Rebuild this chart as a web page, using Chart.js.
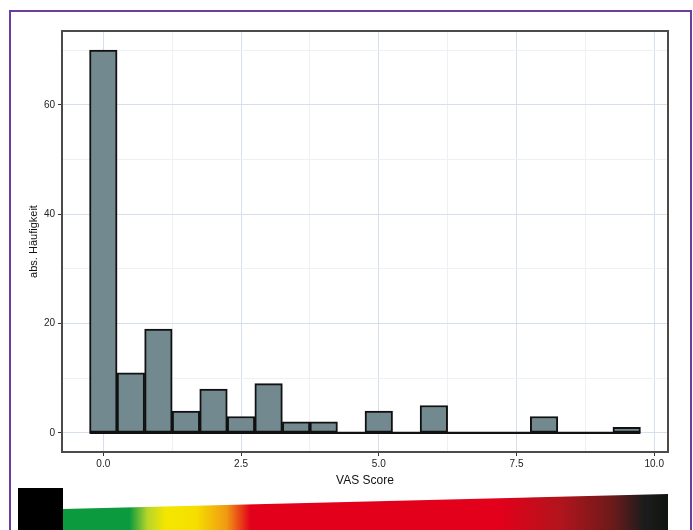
<!DOCTYPE html>
<html>
<head>
<meta charset="utf-8">
<script src="https://cdn.jsdelivr.net/npm/chart.js@4.4.1/dist/chart.umd.min.js"></script>
<style>
    html, body { margin: 0; padding: 0; background: #fff; overflow: hidden; }
    body { width: 693px; height: 530px; position: relative; }
    #frame { position: absolute; left: 9px; top: 10px; width: 679px; height: 540px; border: 2px solid #6b3d9e; }
    #chartBox { position: absolute; left: 0; top: 0; width: 693px; height: 530px; }
    #blackBox { position: absolute; left: 18px; top: 488px; width: 45px; height: 42px; background: #000; }
    #wedge {
        position: absolute; left: 63px; top: 494px; width: 605px; height: 36px;
        clip-path: polygon(0 15px, 100% 0, 100% 100%, 0 100%);
        background: linear-gradient(to right, #0c9a3f 0%, #0c9a3f 11%, #b8d62a 14%, #f4e600 17%, #f5df00 22%, #f09a12 27%, #e3001b 31%, #e3001b 72%, #b3141c 82%, #6b1a1a 91%, #1c1c1c 96%, #101510 100%);
    }
</style>
</head>
<body>
<div id="frame"></div>
<div id="chartBox"><canvas id="histo"></canvas></div>
<div id="blackBox"></div>
<div id="wedge"></div>

<script>
// histogram data (bin centres, bin width 0.5) ----------------------------
const binCenters = [0, 0.5, 1, 1.5, 2, 2.5, 3, 3.5, 4, 4.5, 5, 5.5, 6, 6.5, 7, 7.5, 8, 8.5, 9, 9.5];
const counts = [70, 11, 19, 4, 8, 3, 9, 2, 2, 0, 4, 0, 5, 0, 0, 0, 3, 0, 0, 1];
const binWidth = 0.5;

const xTicks = [0, 2.5, 5, 7.5, 10];
const xMinorTicks = [1.25, 3.75, 6.25, 8.75];
const yTicks = [0, 20, 40, 60];
const yMinorTicks = [10, 30, 50, 70];

const xTitle = 'VAS Score';
const yTitle = 'abs. Häufigkeit';


// helpers ------------------------------------------------------------------
function makeTicks(major, minor) {
    let all = major.map(v => ({ value: v, major: true })).concat(minor.map(v => ({ value: v, major: false })));
    return all.sort((a, b) => a.value - b.value);
}

function gridColor(ctx) {
    return ctx.tick && ctx.tick.major ? '#d5e0ec' : '#edf1f6';
}

function tickColor(ctx) {
    return ctx.tick && ctx.tick.major ? '#333' : 'rgba(0,0,0,0)';
}

const panelBorder = {
    id: 'panelBorder',
    afterDraw(chart) {
        const a = chart.chartArea;
        const c = chart.ctx;
        c.save();
        c.strokeStyle = '#4e4a47';
        c.lineWidth = 2;
        c.strokeRect(a.left, a.top, a.right - a.left, a.bottom - a.top);
        c.restore();
    }
};


// chart --------------------------------------------------------------------
const barData = binCenters.map((x, i) => ({ x: x, y: counts[i] }));
const baseLine = [
    { x: binCenters[0] - binWidth / 2, y: 0 },
    { x: binCenters[binCenters.length - 1] + binWidth / 2, y: 0 }
];

const tickFont = { family: 'Liberation Sans, Arial, sans-serif', size: 10 };

new Chart(document.getElementById('histo'), {
    data: {
        datasets: [{
            type: 'line',
            data: baseLine,
            borderColor: '#111',
            borderWidth: 2.2,
            pointRadius: 0,
            order: 0
        }, {
            type: 'bar',
            data: barData,
            backgroundColor: '#728a8f',
            borderColor: '#111',
            borderWidth: 2,
            borderSkipped: false,
            barPercentage: 1,
            categoryPercentage: 1,
            order: 1
        }]
    },
    options: {
        responsive: true,
        maintainAspectRatio: false,
        animation: false,
        layout: { padding: { left: 27, top: 31, right: 25, bottom: 42 } },
        plugins: { legend: { display: false }, tooltip: { enabled: false } },
        scales: {
            x: {
                type: 'linear',
                offset: false,
                min: -0.75,
                max: 10.25,
                afterBuildTicks: (s) => { s.ticks = makeTicks(xTicks, xMinorTicks); },
                afterFit: (s) => { s.height = 36; },
                grid: { offset: false, color: gridColor, tickColor: tickColor, tickLength: 4, lineWidth: 1 },
                border: { display: false },
                ticks: {
                    font: tickFont,
                    color: '#222',
                    padding: 2,
                    maxRotation: 0,
                    callback: function (v, i, t) { return t[i].major ? v.toFixed(1) : ''; }
                },
                title: {
                    display: true,
                    text: xTitle,
                    color: '#111',
                    font: { family: 'Liberation Sans, Arial, sans-serif', size: 12 },
                    padding: { top: 2, bottom: 0 }
                }
            },
            y: {
                type: 'linear',
                min: -3.5,
                max: 73.5,
                afterBuildTicks: (s) => { s.ticks = makeTicks(yTicks, yMinorTicks); },
                afterFit: (s) => { s.width = 35; },
                grid: { color: gridColor, tickColor: tickColor, tickLength: 4, lineWidth: 1 },
                border: { display: false },
                ticks: {
                    font: tickFont,
                    color: '#222',
                    padding: 3,
                    callback: function (v, i, t) { return t[i].major ? String(v) : ''; }
                },
                title: {
                    display: true,
                    text: yTitle,
                    color: '#111',
                    font: { family: 'Liberation Sans, Arial, sans-serif', size: 11 },
                    padding: { top: 0, bottom: 4 }
                }
            }
        }
    },
    plugins: [panelBorder]
});
</script>
</body>
</html>
